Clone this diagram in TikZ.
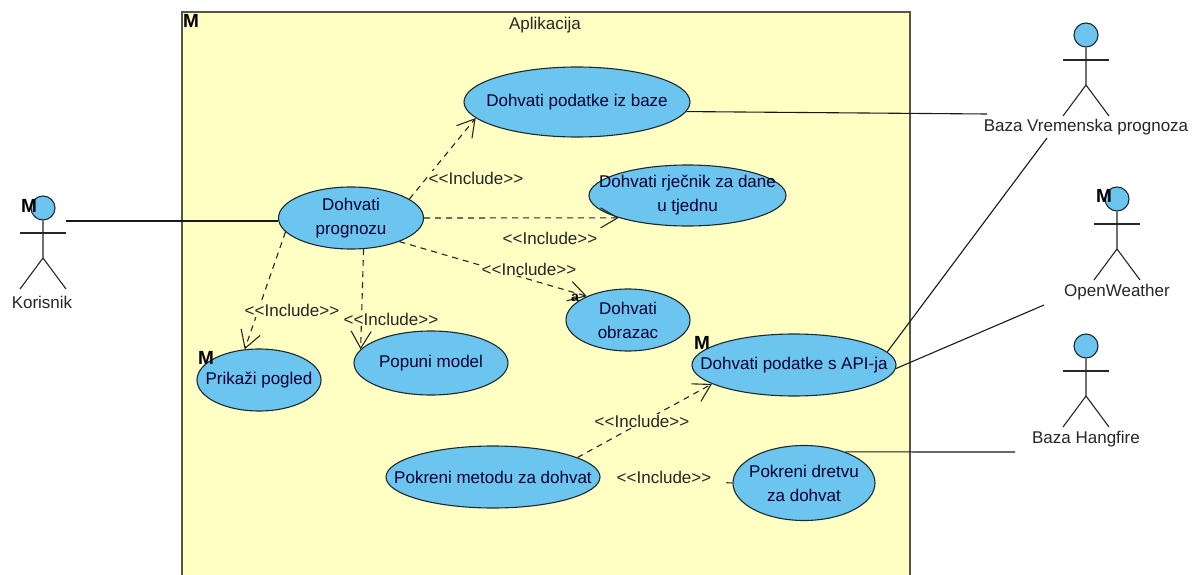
\documentclass[tikz,border=0pt]{standalone}
\usepackage{fontspec}
\setmainfont{Liberation Sans}
\usetikzlibrary{arrows.meta,shapes.geometric}
\definecolor{frameyel}{HTML}{FFFFC4}
\definecolor{ucblue}{HTML}{6CC5EE}
\definecolor{framegr}{HTML}{55554A}
\definecolor{ln}{HTML}{1C2A30}
\tikzset{
 uc/.style={ellipse,draw=ln,line width=1.1pt,fill=ucblue,inner sep=-60pt,minimum width=#1,align=center,font=\fontsize{17}{24}\selectfont,text=black!80!blue},
 head/.style={circle,draw=ln,line width=1.1pt,fill=ucblue,minimum size=24pt,inner sep=0pt},
 limb/.style={draw=black!85,line width=1.1pt},
 assoc/.style={draw=black!90,line width=1.1pt},
 incl/.style={draw=black!85,line width=1.1pt,dash pattern=on 6pt off 5pt,-{Straight Barb[length=17pt,width=20pt,line width=1.1pt]}},
 inclplain/.style={draw=black!85,line width=1.1pt,dash pattern=on 6pt off 5pt},
 lbl/.style={font=\fontsize{17}{20}\selectfont,text=black!85,inner sep=1pt},
 inclbl/.style={lbl,fill=frameyel},
 vpmark/.style={font=\bfseries\fontsize{19}{19}\selectfont,inner sep=0pt,text=black}
}
\begin{document}
\begin{tikzpicture}[x=1pt,y=-1pt]
\useasboundingbox (0,0) rectangle (1195,575);
\fill[white] (0,0) rectangle (1195,575);
\fill[frameyel] (182,12) rectangle (910,575);
\draw[framegr,line width=1.4pt] (182,575) -- (182,12) -- (910,12) -- (910,575);
\node[lbl] (title) at (545,25) {Aplikacija};
\node[vpmark] (m0) at (191,21) {M};
% use cases
\node[uc=226pt,minimum height=70pt] (baza) at (577,102) {Dohvati podatke iz baze};
\node[uc=145pt,minimum height=62pt] (prog) at (351,218) {Dohvati\\prognozu};
\node[uc=197pt,minimum height=61pt] (rjec) at (687.5,195.5) {Dohvati rječnik za dane\\u tjednu};
\node[uc=124pt,minimum height=62pt] (obr) at (628,320) {Dohvati\\obrazac};
\node[uc=204pt,minimum height=62pt] (api) at (794,365) {Dohvati podatke s API-ja};
\node[uc=124pt,minimum height=62pt] (prik) at (259,380) {Prikaži pogled};
\node[uc=154pt,minimum height=64pt] (pop) at (431,363) {Popuni model};
\node[uc=214pt,minimum height=62pt] (met) at (493,477) {Pokreni metodu za dohvat};
\node[uc=142pt,minimum height=75pt] (dret) at (804,483) {Pokreni dretvu\\za dohvat};
\node[vpmark] (m1) at (206,358) {M};
\node[vpmark] (m2) at (702,343) {M};
% actors
\node[head] (h1) at (43,208) {};
\node[head] (h2) at (1086,35) {};
\node[head] (h3) at (1117,199) {};
\node[head] (h4) at (1086,346) {};
\foreach \h/\x/\y in {h1/43/208,h2/1086/35,h3/1117/199,h4/1086/346}{
 \draw[limb] (\h) -- (\x,\y+50) -- (\x-23,\y+81);
 \draw[limb] (\x,\y+50) -- (\x+23,\y+81);
 \draw[limb] (\x-23,\y+25) -- (\x+23,\y+25);
}
\node[vpmark] (m3) at (29,206) {M};
\node[vpmark] (m4) at (1104,196) {M};
\node[lbl] (a1) at (42,302) {Korisnik};
\node[lbl] (a2) at (1086,127) {Baza Vremenska prognoza};
\node[lbl] (a3) at (1117,292) {OpenWeather};
\node[lbl] (a4) at (1086,439) {Baza Hangfire};
% associations
\coordinate (c1) at (66,221);
\coordinate (c2) at (987,114);
\coordinate (c3) at (1047,138);
\coordinate (c4) at (1044,305);
\coordinate (c5) at (1015,452);
\draw[assoc] (c1) -- (prog.west |- c1);
\draw[assoc] (baza.-5.8) -- (c2);
\draw[assoc] (api.8) -- (c3);
\draw[assoc] (api.-2) -- (c4);
\draw[assoc] (dret.37) -- (c5);
% includes
\draw[incl] (prog.18) -- (baza.189.4);
\draw[incl] (prog.0) -- (rjec.198.2);
\draw[incl] (prog.-26.6) -- (obr.150);
\draw[incl] (prog.192.8) -- (prik.115);
\draw[incl] (prog.-68.8) -- (pop.169);
\draw[incl] (met.13) -- (api.193);
\draw[inclplain] (dret.180) -- (met.0);
% labels
\node[inclbl] (i1) at (476,178) {<{}<Include>{}>};
\node[inclbl] (i2) at (550,238) {<{}<Include>{}>};
\node[inclbl] (i3) at (529,269) {<{}<Include>{}>};
\node[inclbl] (i4) at (292,310) {<{}<Include>{}>};
\node[inclbl] (i5) at (391,319) {<{}<Include>{}>};
\node[inclbl] (i6) at (642,421) {<{}<Include>{}>};
\node[inclbl,minimum width=122pt] (i7) at (664,477) {<{}<Include>{}>};
\node[font=\bfseries\fontsize{14}{14}\selectfont,inner sep=0pt] (glyph) at (575,298) {a};
\end{tikzpicture}
\end{document}
